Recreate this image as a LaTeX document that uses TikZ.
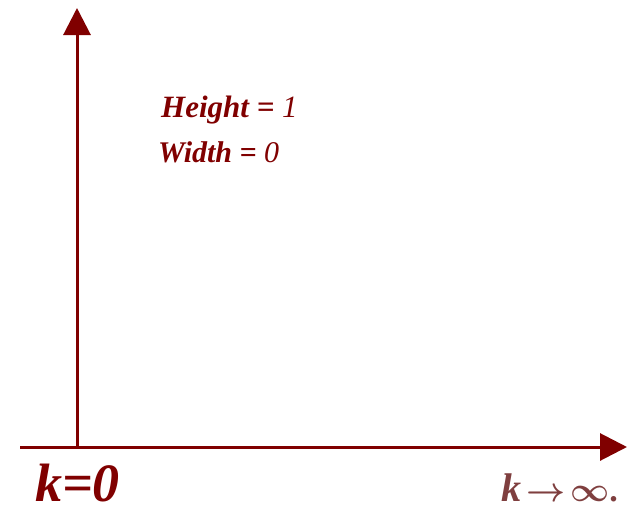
\RequirePackage{fix-cm}
\documentclass[tikz,border=0pt]{standalone}
\usepackage{fontspec}
\setmainfont{Liberation Serif}
\usetikzlibrary{arrows.meta}
\definecolor{darkred}{HTML}{800000}
\definecolor{lightred}{HTML}{7F3F3F}
\tikzset{
  axis/.style={line width=3pt, darkred, -{Triangle[width=27pt,length=27pt]}},
  label/.style={anchor=base west, inner sep=0pt, text=darkred, font=\bfseries\itshape}
}
\begin{document}
\begin{tikzpicture}[x=1pt,y=-1pt]
    \useasboundingbox (0,0) rectangle (627,506);

    % Оси
    \coordinate (o) at (77,447);
    \coordinate (top) at (77,8);
    \coordinate (left) at (20,447);
    \coordinate (right) at (627,447);
    \draw[axis] (o) -- (top);
    \draw[axis] (left) -- (right);

    % Подписи
    \node[label, font=\fontsize{31}{33}\selectfont\bfseries\itshape] (height) at (161,117) {Height = \textmd{1}};
    \node[label, font=\fontsize{30}{32}\selectfont\bfseries\itshape] (width) at (158,162) {Width = \textmd{0}};
    \node[label, font=\fontsize{54}{56}\selectfont\bfseries\itshape] (kzero) at (35,501) {k=0};
    \node[label, text=lightred, font=\fontsize{34}{36}\selectfont\bfseries] (kinf) at (501,501) {{\fontsize{40}{42}\selectfont\textit{k}}\,{\boldmath$\rightarrow\!\infty$}.};

\end{tikzpicture}
\end{document}
